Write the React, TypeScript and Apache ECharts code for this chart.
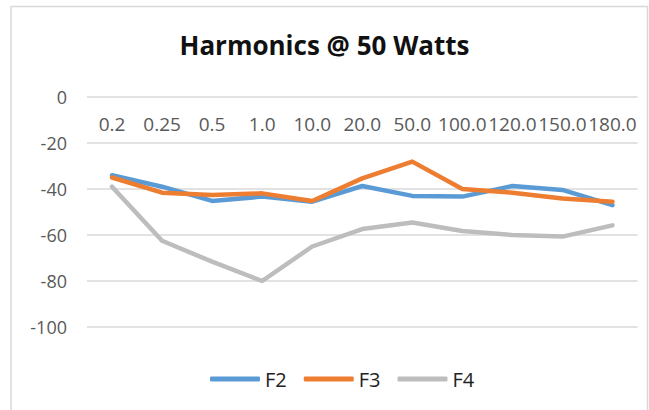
import React, { useEffect, useRef } from "react";
import * as echarts from "echarts";

const categories = ["0.2", "0.25", "0.5", "1.0", "10.0", "20.0", "50.0", "100.0", "120.0", "150.0", "180.0"];
const f2 = [-34, -39, -45.2, -43.3, -45.5, -38.7, -43, -43.3, -38.7, -40.4, -47];
const f3 = [-35, -41.6, -42.6, -41.9, -45.2, -35.4, -28.1, -40, -41.6, -44.1, -45.5];
const f4 = [-39, -62.5, -71.6, -80, -65, -57.4, -54.6, -58.3, -60, -60.7, -55.8];
const yMin = -100;
const yMax = 0;
const yStep = 20;

const FONT = "'Open Sans', 'Noto Sans', sans-serif";

export default function App() {
  const ref = useRef<HTMLDivElement>(null);
  useEffect(() => {
    if (!ref.current) return;
    const chart = echarts.init(ref.current, null, { renderer: "svg" });
    const mk = (name: string, data: number[], color: string) => ({
      name,
      type: "line",
      data,
      symbol: "none",
      lineStyle: { color, width: 4.5, cap: "round", join: "round" },
      itemStyle: { color },
      z: 3,
    });
    chart.setOption({
      animation: false,
      backgroundColor: "#ffffff",
      textStyle: { fontFamily: FONT },
      title: {
        text: "Harmonics @ 50 Watts",
        left: "center",
        top: 27,
        textStyle: { fontFamily: FONT, fontWeight: "bold", fontSize: 26, color: "#111" },
      },
      graphic: [
        {
          type: "rect",
          shape: { x: 11, y: 6.5, width: 636.5, height: 420 },
          style: { fill: "none", stroke: "#d9d9d9", lineWidth: 1.5 },
          silent: true,
        },
      ],
      legend: {
        left: 205,
        top: 364,
        icon: "roundRect",
        itemWidth: 50,
        itemHeight: 5,
        itemGap: 17,
        textStyle: { fontFamily: FONT, fontSize: 20, color: "#222" },
        data: ["F2", "F3", "F4"],
      },
      grid: { left: 87, right: 11.5, top: 97, bottom: 83, containLabel: false },
      xAxis: {
        type: "category",
        position: "top",
        data: categories,
        boundaryGap: true,
        axisLine: { show: false },
        axisTick: { show: false },
        axisLabel: { interval: 0, inside: true, color: "#595959", fontSize: 19, fontFamily: FONT, margin: 17 },
      },
      yAxis: {
        type: "value",
        min: yMin,
        max: yMax,
        interval: yStep,
        axisLine: { show: false },
        axisTick: { show: false },
        axisLabel: { color: "#595959", fontSize: 18, fontFamily: FONT, margin: 20 },
        splitLine: { lineStyle: { color: "#d9d9d9", width: 1.5 } },
      },
      series: [mk("F2", f2, "#5B9BD5"), mk("F3", f3, "#ED7D31"), mk("F4", f4, "#BDBDBD")],
    });
    return () => chart.dispose();
  }, []);
  return (
    <div
      ref={ref}
      style={{ position: "absolute", left: 0, top: 0, width: 649, height: 410 }}
    />
  );
}
